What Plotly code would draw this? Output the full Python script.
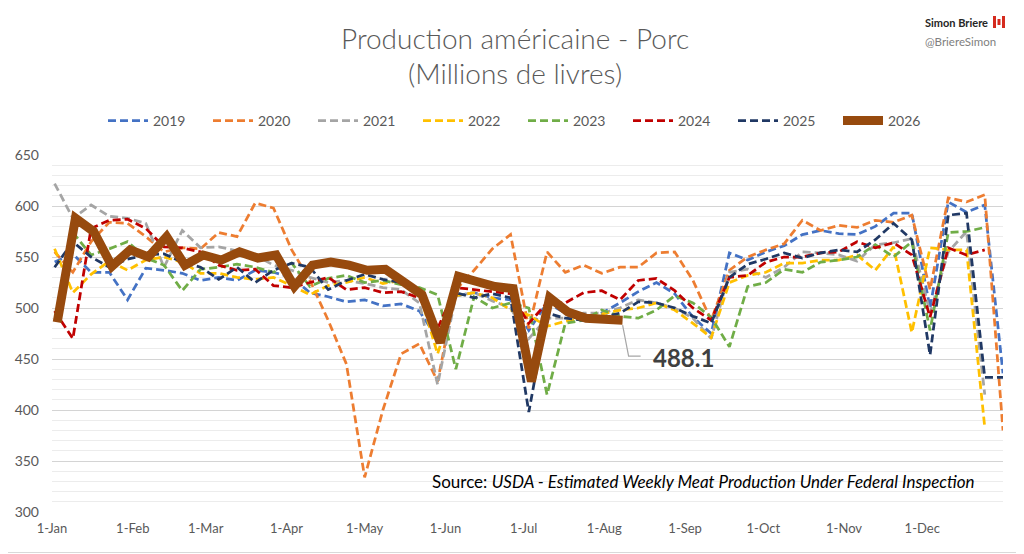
import pandas as pd
import plotly.graph_objects as go

# Production hebdomadaire de porc (millions de livres), une valeur par semaine
Y2019 = [545, 553, 535, 535, 508, 539, 537, 534, 527, 530, 527, 537, 535,
         530, 515, 511, 506, 508, 502, 504, 497, 470, 512, 515, 510, 508, 478,
         505, 495, 490, 495, 505, 516, 525, 514, 491, 475, 554, 547, 555, 561,
         572, 576, 573, 572, 580, 593, 593, 500, 604, 594, 601, 436]
Y2020 = [555, 535, 565, 584, 583, 570, 555, 559, 558, 574, 570, 603, 598,
         557, 527, 488, 445, 334, 400, 455, 465, 428, 518, 537, 558, 572, 480,
         555, 535, 542, 534, 540, 540, 554, 555, 527, 488, 537, 550, 557, 563,
         586, 576, 581, 579, 586, 584, 591, 518, 608, 604, 611, 380]
Y2021 = [622, 588, 601, 590, 588, 583, 540, 576, 559, 560, 556, 552, 542,
         537, 530, 525, 527, 524, 520, 518, 505, 425, 512, 515, 507, 500, 470,
         490, 490, 495, 495, 500, 508, 505, 500, 490, 470, 535, 538, 530, 540,
         555, 554, 552, 546, 562, 564, 568, 495, 555, 575, 415]
Y2022 = [558, 515, 533, 546, 537, 547, 550, 545, 534, 534, 530, 528, 530,
         522, 513, 522, 525, 530, 524, 527, 515, 455, 512, 515, 510, 498, 493,
         482, 487, 490, 494, 498, 500, 505, 498, 485, 471, 525, 532, 535, 544,
         544, 547, 547, 552, 537, 560, 476, 559, 557, 557, 383]
Y2023 = [None, 574, 552, 558, 565, 549, 542, 517, 538, 540, 543, 540, 535,
         544, 521, 529, 532, 525, 527, 523, 520, 513, 440, 511, 500, 505, 500,
         415, 485, 488, 498, 492, 490, 498, 512, 505, 491, 462, 521, 525, 538,
         535, 545, 547, 550, 562, 550, 565, 478, 574, 575, 579]
Y2024 = [497, 470, 578, 586, 587, 578, 560, 559, 555, 542, 537, 538, 522,
         520, 525, 530, 518, 520, 515, 516, 510, 480, 520, 518, 516, 514, 485,
         505, 505, 515, 517, 508, 527, 529, 517, 500, 488, 530, 532, 545, 550,
         550, 554, 555, 565, 559, 564, 552, 491, 559, 552, 557]
Y2025 = [540, 565, 550, 540, 548, 552, 553, 545, 540, 528, 540, 525, 537,
         544, 540, 518, 527, 533, 528, 525, 515, 470, 515, 510, 514, 510, 398,
         495, 490, 488, 491, 495, 506, 505, 500, 492, 485, 530, 543, 548, 554,
         549, 554, 557, 555, 567, 583, 567, 454, 591, 593, 432, 432]
Y2026 = [486, 588, 575, 541, 557, 550, 570, 542, 552, 547, 555, 549, 552,
         521, 542, 545, 542, 537, 538, 526, 513, 466, 531, 526, 521, 519, 428,
         510, 496, 490, 488, 488.1]

MONTH_TICKS = ["2026-01-01", "2026-02-01", "2026-03-01", "2026-04-01", "2026-05-01",
               "2026-06-01", "2026-07-01", "2026-08-01", "2026-09-01", "2026-10-01",
               "2026-11-01", "2026-12-01"]
MONTH_LABELS = ["1-Jan", "1-Feb", "1-Mar", "1-Apr", "1-May", "1-Jun",
                "1-Jul", "1-Aug", "1-Sep", "1-Oct", "1-Nov", "1-Dec"]

series = [
    ("2019", Y2019, "#4472C4"),
    ("2020", Y2020, "#ED7D31"),
    ("2021", Y2021, "#A5A5A5"),
    ("2022", Y2022, "#FFC000"),
    ("2023", Y2023, "#70AD47"),
    ("2024", Y2024, "#C00000"),
    ("2025", Y2025, "#203864"),
]

weeks = pd.date_range("2026-01-02", periods=53, freq="7D")
weeks_2026 = pd.date_range("2026-01-03", periods=len(Y2026), freq="7D")

# la page HTML garde une marge de 8px autour du graphique
PAGE_W, PAGE_H, BODY = 1024, 554, 8
W, H = PAGE_W - BODY, PAGE_H - BODY

# zone de tracé, en pixels de la page
L, R, T, B = 52, 1003, 155, 512


def px_x(px):
    return (px - L) / (R - L)


def px_y(py):
    return (B - py) / (B - T)


FONT = "Lato, 'Open Sans', sans-serif"
GREY = "#595959"

fig = go.Figure()
for name, vals, color in series:
    fig.add_trace(go.Scatter(
        x=weeks[:len(vals)], y=vals, name=name, mode="lines",
        line=dict(color=color, width=2.75, dash="8px,4px"),
        connectgaps=False, hoverinfo="skip"
    ))

fig.add_trace(go.Scatter(
    x=weeks_2026, y=Y2026, name="2026", mode="lines",
    line=dict(color="#974A0E", width=9), hoverinfo="skip"
))

last_x = weeks_2026[-1]
last_y = Y2026[-1]

annotations = [
    dict(text="Production américaine - Porc", x=px_x(515), y=px_y(38), xref="paper", yref="paper",
         showarrow=False, font=dict(size=28, color=GREY, family=FONT, weight=300),
         xanchor="center", yanchor="middle"),
    dict(text="(Millions de livres)", x=px_x(515), y=px_y(73), xref="paper", yref="paper",
         showarrow=False, font=dict(size=28, color=GREY, family=FONT, weight=300),
         xanchor="center", yanchor="middle"),
    dict(text="<b>Simon Briere</b>", x=px_x(990), y=px_y(22), xref="paper", yref="paper",
         showarrow=False, font=dict(size=11, color="#262626", family=FONT), xanchor="right", yanchor="middle"),
    dict(text="@BriereSimon", x=px_x(998), y=px_y(41), xref="paper", yref="paper",
         showarrow=False, font=dict(size=11.5, color="#808080", family=FONT), xanchor="right", yanchor="middle"),
    dict(text="Source: <i>USDA - Estimated Weekly Meat Production Under Federal Inspection</i>",
         x=px_x(977), y=px_y(481), xref="paper", yref="paper", showarrow=False,
         font=dict(size=17, color="#000000", family=FONT), xanchor="right", yanchor="middle"),
    dict(text="<b>%.1f</b>" % last_y, x=last_x, y=last_y, xref="x", yref="y", showarrow=False,
         xanchor="left", yanchor="middle", xshift=28, yshift=-37,
         font=dict(size=24, color="#404040", family=FONT)),
]

shapes = [
    # cadre du graphique
    dict(type="rect", xref="paper", yref="paper", x0=px_x(1), x1=px_x(1022.5),
         y0=px_y(552.5), y1=px_y(1), line=dict(color="#D9D9D9", width=1), layer="below"),
    # ligne de rappel vers l'étiquette
    dict(type="path", xref="x", yref="y", xsizemode="pixel", ysizemode="pixel",
         xanchor=last_x, yanchor=last_y, path="M0,-5 L6,-36 L18,-36",
         line=dict(color="#A6A6A6", width=1.2)),
    # drapeau
    dict(type="rect", xref="paper", yref="paper", x0=px_x(993), x1=px_x(1005),
         y0=px_y(28), y1=px_y(16), fillcolor="#D52B1E", line=dict(width=0)),
    dict(type="rect", xref="paper", yref="paper", x0=px_x(996), x1=px_x(1002),
         y0=px_y(28), y1=px_y(16), fillcolor="#FFFFFF", line=dict(width=0)),
    dict(type="rect", xref="paper", yref="paper", x0=px_x(997.5), x1=px_x(1000.5),
         y0=px_y(25), y1=px_y(19), fillcolor="#D52B1E", line=dict(width=0)),
]

fig.update_layout(
    width=W, height=H,
    margin=dict(l=L - BODY, r=PAGE_W - R, t=T - BODY, b=PAGE_H - B, autoexpand=False),
    paper_bgcolor="white", plot_bgcolor="white",
    font=dict(family=FONT, color=GREY),
    showlegend=True,
    legend=dict(orientation="h", x=px_x(103), y=px_y(121), xanchor="left", yanchor="middle",
                font=dict(size=14, color=GREY, family=FONT), itemwidth=40,
                entrywidth=50, entrywidthmode="pixels", bgcolor="rgba(0,0,0,0)"),
    xaxis=dict(type="date", range=["2026-01-01", "2027-01-01"], tickvals=MONTH_TICKS,
               ticktext=MONTH_LABELS, showgrid=False, zeroline=False, showline=False,
               automargin=False, ticklabelstandoff=7,
               tickfont=dict(size=13, color=GREY, family=FONT), ticks=""),
    yaxis=dict(range=[300, 650], dtick=50, tick0=300, showgrid=True, gridcolor="#D4D4D4",
               gridwidth=1, zeroline=False, showline=False, ticks="", automargin=False,
               tickfont=dict(size=14, color=GREY, family=FONT), ticklabelstandoff=12,
               minor=dict(dtick=10, showgrid=True, gridcolor="#ECECEC", gridwidth=1)),
    annotations=annotations,
    shapes=shapes,
)

fig.write_html("out.html")
